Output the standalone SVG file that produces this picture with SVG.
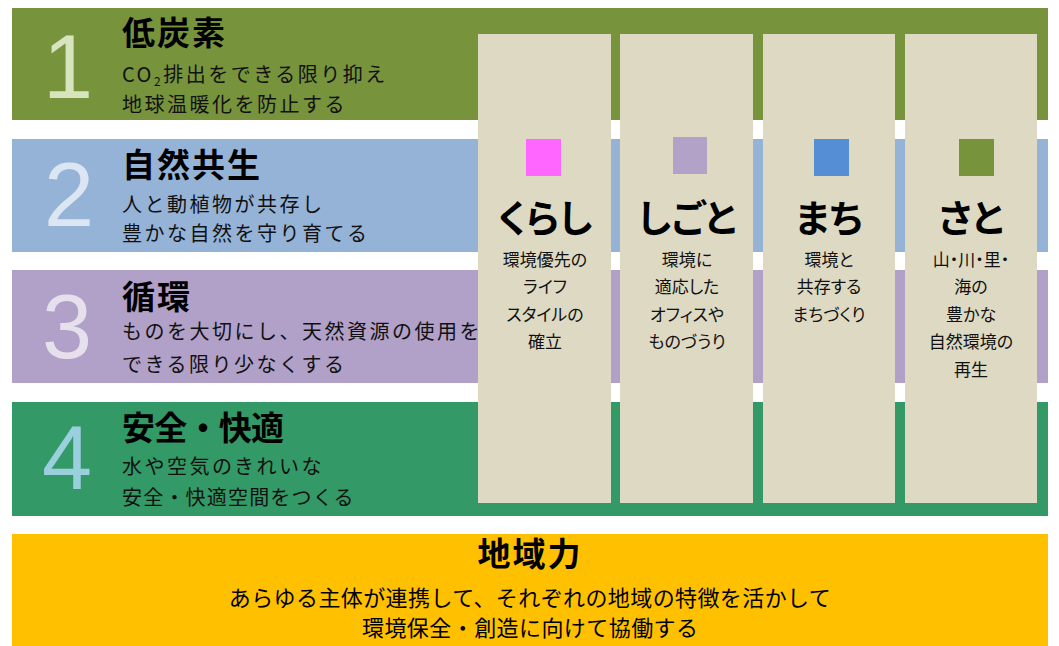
<svg xmlns="http://www.w3.org/2000/svg" width="1059" height="646" viewBox="0 0 1059 646">
<style>
.num{font-family:"Liberation Sans",Arial,sans-serif;font-size:90px;text-anchor:middle}
.ttl{font-family:"Noto Sans CJK JP",sans-serif;font-weight:bold;font-size:33px;letter-spacing:2px;fill:#000}
.sub{font-family:"Noto Sans CJK JP",sans-serif;font-size:20px;letter-spacing:2.5px;fill:#111}
.col{fill:#DDD9C3}
.ctl{font-family:"Noto Sans CJK JP",sans-serif;font-weight:bold;font-size:38px;text-anchor:middle;fill:#000;font-feature-settings:"palt"}
.cst{font-family:"Noto Sans CJK JP",sans-serif;font-size:17px;text-anchor:middle;fill:#111;font-feature-settings:"palt"}
.bt{font-family:"Noto Sans CJK JP",sans-serif;text-anchor:middle;fill:#000}
</style>
<rect width="1059" height="646" fill="#fff"/>
<g id="band1">
<rect x="12" y="8" width="1036" height="112" fill="#77933C"/>
<text class="num" x="68" y="98" fill="#D7E4BD">1</text>
<text class="ttl" x="122" y="45">低炭素</text>
<text class="sub" x="122" y="82">CO<tspan font-size="12" dy="4">2</tspan><tspan dy="-4">排出をできる限り抑え</tspan></text>
<text class="sub" x="122" y="112">地球温暖化を防止する</text>
</g>
<g id="band2">
<rect x="12" y="139" width="1036" height="113" fill="#95B3D7"/>
<text class="num" x="69" y="226" fill="#DCE6F2">2</text>
<text class="ttl" x="122" y="177">自然共生</text>
<text class="sub" x="122" y="212">人と動植物が共存し</text>
<text class="sub" x="122" y="241">豊かな自然を守り育てる</text>
</g>
<g id="band3">
<rect x="12" y="270" width="1036" height="113" fill="#B1A0C7"/>
<text class="num" x="67" y="358" fill="#E6E0EC">3</text>
<text class="ttl" x="122" y="309">循環</text>
<text class="sub" x="122" y="339">ものを大切にし、天然資源の使用を</text>
<text class="sub" x="122" y="372">できる限り少なくする</text>
</g>
<g id="band4">
<rect x="12" y="402" width="1036" height="114" fill="#339966"/>
<text class="num" x="67" y="489" fill="#9ACFDD">4</text>
<text class="ttl" x="122" y="440" letter-spacing="0" textLength="164" lengthAdjust="spacing">安全・快適</text>
<text class="sub" x="122" y="474">水や空気のきれいな</text>
<text class="sub" x="122" y="505" letter-spacing="0" textLength="234" lengthAdjust="spacing">安全・快適空間をつくる</text>
</g>
<g id="col-kurashi">
<rect class="col" x="478" y="34" width="133" height="469"/>
<rect x="526" y="139" width="35" height="37" fill="#FF66FF"/>
<text class="ctl" x="545" y="232">くらし</text>
<text class="cst" x="545" y="266">環境優先の</text>
<text class="cst" x="545" y="293">ライフ</text>
<text class="cst" x="545" y="321">スタイルの</text>
<text class="cst" x="545" y="348">確立</text>
</g>
<g id="col-shigoto">
<rect class="col" x="620" y="34" width="133" height="469"/>
<rect x="673" y="137" width="34" height="37" fill="#B3A2C7"/>
<text class="ctl" x="687" y="232">しごと</text>
<text class="cst" x="687" y="266">環境に</text>
<text class="cst" x="687" y="293">適応した</text>
<text class="cst" x="687" y="321">オフィスや</text>
<text class="cst" x="687" y="348">ものづうり</text>
</g>
<g id="col-machi">
<rect class="col" x="763" y="34" width="132" height="469"/>
<rect x="814" y="139" width="35" height="37" fill="#558ED5"/>
<text class="ctl" x="829" y="232">まち</text>
<text class="cst" x="829" y="266">環境と</text>
<text class="cst" x="829" y="293">共存する</text>
<text class="cst" x="829" y="321">まちづくり</text>
</g>
<g id="col-sato">
<rect class="col" x="905" y="34" width="132" height="469"/>
<rect x="959" y="139" width="35" height="37" fill="#77933C"/>
<text class="ctl" x="971" y="232">さと</text>
<text class="cst" x="971" y="266">山・川・里・</text>
<text class="cst" x="971" y="293">海の</text>
<text class="cst" x="971" y="321">豊かな</text>
<text class="cst" x="971" y="348">自然環境の</text>
<text class="cst" x="971" y="376">再生</text>
</g>
<g id="chiikiryoku">
<rect x="12" y="534" width="1036" height="112" fill="#FFC000"/>
<text class="bt" x="530" y="566" font-size="33" font-weight="bold" letter-spacing="2">地域力</text>
<text class="bt" x="530" y="606" font-size="22" letter-spacing="0.4">あらゆる主体が連携して、それぞれの地域の特徴を活かして</text>
<text class="bt" x="530" y="636" font-size="22" textLength="336" lengthAdjust="spacing">環境保全・創造に向けて協働する</text>
</g>
<g id="connectors"/>
</svg>
